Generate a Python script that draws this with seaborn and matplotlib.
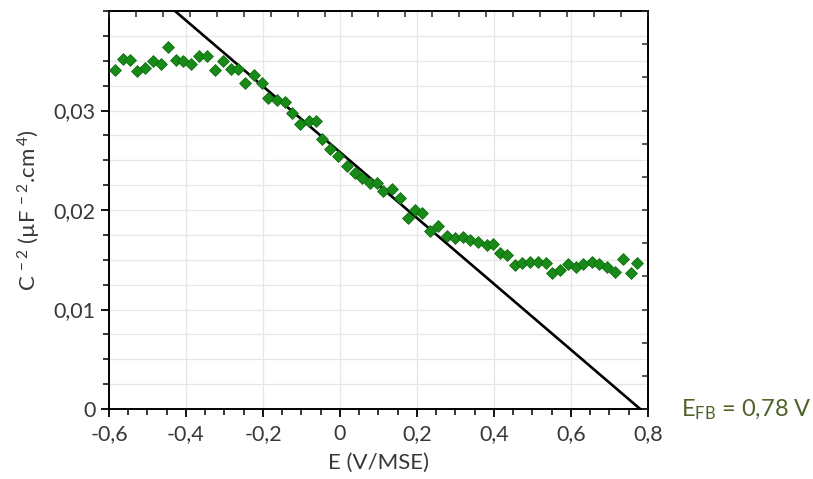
import numpy as np
import pandas as pd
import seaborn as sns
import matplotlib.pyplot as plt
from matplotlib.ticker import MultipleLocator, FuncFormatter

# Mott-Schottky data
potential = [-0.584, -0.564, -0.545, -0.526, -0.506, -0.486, -0.466, -0.446, -0.426, -0.407,
             -0.388, -0.365, -0.345, -0.325, -0.305, -0.284, -0.264, -0.247, -0.223, -0.203,
             -0.186, -0.164, -0.143, -0.125, -0.104, -0.080, -0.062, -0.047, -0.026, -0.004,
             0.018, 0.039, 0.058, 0.078, 0.095, 0.112, 0.134, 0.156, 0.177, 0.195,
             0.212, 0.234, 0.255, 0.277, 0.299, 0.320, 0.338, 0.359, 0.381, 0.398,
             0.416, 0.433, 0.455, 0.474, 0.494, 0.515, 0.535, 0.552, 0.571, 0.593,
             0.613, 0.632, 0.654, 0.674, 0.693, 0.714, 0.736, 0.755, 0.772]
inv_c2 = [0.0341, 0.0352, 0.0351, 0.0340, 0.0343, 0.0350, 0.0347, 0.0364, 0.0351, 0.0350,
          0.0347, 0.0355, 0.0355, 0.0341, 0.0350, 0.0342, 0.0342, 0.0328, 0.0336, 0.0328,
          0.0313, 0.0311, 0.0309, 0.0298, 0.0286, 0.0289, 0.0289, 0.0271, 0.0261, 0.0254,
          0.0244, 0.0237, 0.0232, 0.0227, 0.0227, 0.0219, 0.0221, 0.0212, 0.0192, 0.0200,
          0.0197, 0.0179, 0.0184, 0.0174, 0.0172, 0.0173, 0.0170, 0.0168, 0.0165, 0.0166,
          0.0157, 0.0155, 0.0145, 0.0147, 0.0148, 0.0148, 0.0147, 0.0137, 0.0140, 0.0146,
          0.0143, 0.0146, 0.0148, 0.0146, 0.0143, 0.0138, 0.0151, 0.0137, 0.0147]

# linear fit: C^-2 = slope * (E - E_FB)
e_fb = 0.78
slope = -0.0331
fit_range = [-0.45, 0.78]

df = pd.DataFrame({'E': potential, 'C2': inv_c2})
fit = pd.DataFrame({'E': fit_range})
fit['C2'] = slope * (fit['E'] - e_fb)

sns.set_style('white')
plt.rcParams['font.family'] = ['Lato', 'DejaVu Sans']
plt.rcParams['mathtext.default'] = 'regular'
txt = '#383838'

fig = plt.figure(figsize=(8.13, 4.79), dpi=100)
ax = fig.add_axes([0.134, 0.146, 0.663, 0.831])

sns.lineplot(data=fit, x='E', y='C2', color='black', lw=1.9, ax=ax, zorder=2)
sns.scatterplot(data=df, x='E', y='C2', marker='D', s=36, color='#178a17',
                edgecolor='#0d6e0d', linewidth=0.6, ax=ax, zorder=3)

ax.set_xlim(-0.6, 0.8)
ax.set_ylim(0, 0.04)
ax.xaxis.set_major_locator(MultipleLocator(0.2))
ax.xaxis.set_minor_locator(MultipleLocator(0.05))
ax.set_yticks([0, 0.01, 0.02, 0.03])
ax.yaxis.set_minor_locator(MultipleLocator(0.0025))

def comma(v, pos):
    if abs(v) < 1e-9:
        return '0'
    return ('%g' % round(v, 3)).replace('.', ',')

ax.xaxis.set_major_formatter(FuncFormatter(comma))
ax.yaxis.set_major_formatter(FuncFormatter(comma))

ax.grid(which='major', axis='x', color='#e6e6e6', lw=0.9)
ax.grid(which='both', axis='y', color='#e6e6e6', lw=0.9)
ax.set_axisbelow(True)

ax.tick_params(which='both', direction='out', color='black', labelcolor=txt,
               labelsize=15.5, top=False, right=False)
ax.tick_params(which='major', length=6, width=1.3)
ax.tick_params(which='minor', length=4, width=1.1)
ax.tick_params(axis='x', pad=5)

for s in ax.spines.values():
    s.set_color('black')
    s.set_linewidth(1.4)
    s.set_visible(True)

# inward ticks on the top and right spines
ax_top = ax.twiny()
ax_top.set_xlim(-0.6, 0.8)
ax_top.set_xticks(np.arange(-0.6, 0.81, 0.07))
ax_top.tick_params(direction='in', length=4, width=1.1, labeltop=False)
ax_right = ax.twinx()
ax_right.set_ylim(0, 0.04)
ax_right.set_yticks(np.arange(0, 0.0401, 0.01 / 3))
ax_right.tick_params(direction='in', length=4, width=1.1, labelright=False)
for a in (ax_top, ax_right):
    for s in a.spines.values():
        s.set_visible(False)

ax.set_xlabel('E (V/MSE)', fontsize=16, color=txt, labelpad=6)
ax.set_ylabel(r'C$^{\,-2}$ (µF$^{\,-2}$.cm$^{\,4}$)', fontsize=16, color=txt, labelpad=8)

fig.text(0.838, 0.145, r'E$_{FB}$ = 0,78 V', fontsize=17, color='#4f6228', va='center')

fig.savefig('out.png', dpi=100)
